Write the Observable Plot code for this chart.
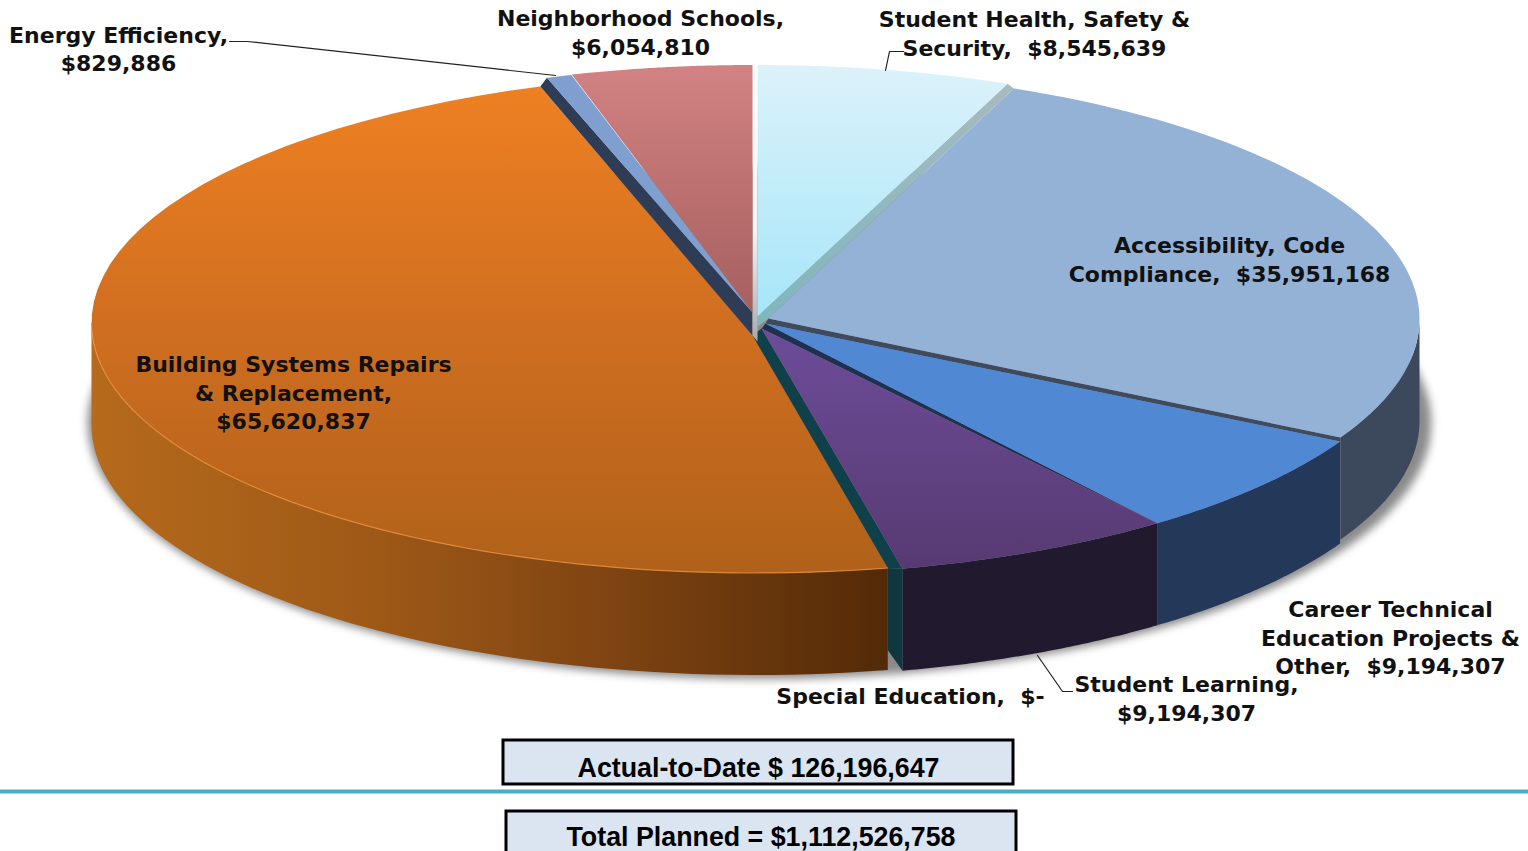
<!DOCTYPE html>
<html>
<head>
<meta charset="utf-8">
<title>Actual-to-date spending by category</title>
<script src="https://cdn.jsdelivr.net/npm/d3@7"></script>
<script src="https://cdn.jsdelivr.net/npm/@observablehq/plot@0.6"></script>
<style>
html,body{margin:0;padding:0;background:#fff;overflow:hidden}
svg{display:block}
</style>
</head>
<body>
<div id="chart"></div>
<script>
// ---- chart values ----
const categories = ["Student Health, Safety & Security","Accessibility, Code Compliance","Career Technical Education Projects & Other","Student Learning","Special Education","Building Systems Repairs & Replacement","Energy Efficiency","Neighborhood Schools"];
const amounts = [8545639,35951168,9194307,9194307,0,65620837,829886,6054810];
const labelTemplates = ["Student Health, Safety &\nSecurity,  #","Accessibility, Code\nCompliance,  #","Career Technical\nEducation Projects &\nOther,  #","Student Learning,\n#","Special Education,  #","Building Systems Repairs\n& Replacement,\n#","Energy Efficiency,\n#","Neighborhood Schools,\n#"];
const actualText = "Actual-to-Date $ 126,196,647";
const plannedText = "Total Planned = $1,112,526,758";

// ---- layout of the picture (separate from the values) ----
const W = 1528, H = 851;
const pie = {cx:755, cy:318.5, rx:664, ry:254, depth:102};
// per-slice: pie apex, rim shift and radius adjustment, angle nudges (deg)
const apexX = [757,768,765,761,null,752,752,752];
const apexY = [316,318,323,328,null,335,312,312];
const rimDx = [2,3,0,0,0,0,0,-3];
const rimDy = [0,0,2,2,0,4,0,0];
const rimDrx = [0,-3,0,0,0,0,0,0];
const rimDry = [0,-4,0,0,0,-4,0,0];
const nudge0 = [0,0,0,0,0,1.3,0,0.3];
const nudge1 = [-0.6,0,0,0,0,-0.6,0,0];
const tops = ["url(#gHealth)","#94b1d6","#5088d4","url(#gLearn)",null,"url(#gBuild)","#7f9fd0","url(#gNbr)"];
const walls = [null,"#3c495c","#24395a","#21192e",null,"url(#gBuildWall)",null,null];
const labelX = [1034,1229,1390,1186,910,293,118,640];
const labelY = [32,258,636,697,694,391,47.5,31];

const angles = d3.pie().sort(null).value(d => d).startAngle(0).endAngle(2*Math.PI)(amounts);
const rimAt = (i, deg) => {
  const t = deg*Math.PI/180;
  return {x: pie.cx+rimDx[i]+(pie.rx+rimDrx[i])*Math.sin(t), y: pie.cy+rimDy[i]-(pie.ry+rimDry[i])*Math.cos(t)};
};
const arcOf = (i, from, to) => d3.range(0,61).map(k => rimAt(i, from+(to-from)*k/60));
const t0 = i => angles[i].startAngle*180/Math.PI + nudge0[i];
const t1 = i => angles[i].endAngle*180/Math.PI + nudge1[i];
const apex = i => ({x:apexX[i], y:apexY[i]});
const below = (p, d=pie.depth) => ({x:p.x, y:p.y+d});
const shape = (pts, fill, extra={}) => Plot.line(pts, {x:"x", y:"y", curve:"linear-closed", fill, stroke:"none", ...extra});

const sliceMarks = [], wallMarks = [];
[1,2,3,5].forEach(i => {
  const a = Math.max(t0(i),90), b = Math.min(t1(i),270);
  const rim = arcOf(i,a,b);
  wallMarks.push(shape([...rim, ...rim.slice().reverse().map(p => below(p))], walls[i]));
});
const H_=0,A_=1,C_=2,L_=3,B_=5,E_=6,N_=7;
const first = i => rimAt(i,t0(i)), last = i => rimAt(i,t1(i));
// cut faces seen through the gaps between slices
const tealWall = shape([first(B_), below(first(B_),pie.depth-20), below(last(L_)), last(L_)], "#10363f");
const cuts = [
  shape([first(B_), apex(B_), apex(L_), last(L_)], "#10404a"),
  shape([last(B_), first(E_), apex(E_), apex(B_)], "#2e3d55"),
  shape([last(H_), first(A_), apex(A_), {x:apexX[H_],y:apexY[A_]+8}, apex(H_)], "url(#gHealthCut)"),
  shape([last(A_), first(C_), apex(C_), apex(A_)], "#3f4a5c"),
  shape([last(C_), first(L_), apex(L_), apex(C_)], "#1f3050"),
  shape([{x:pie.cx-3,y:pie.cy-pie.ry},{x:pie.cx+2,y:pie.cy-pie.ry},{x:pie.cx+2,y:apexY[B_]+6},{x:pie.cx-3,y:apexY[B_]}], "url(#gGap)")
];
[B_,E_,N_,H_,A_,C_,L_].forEach(i => {
  sliceMarks.push(shape([apex(i), ...arcOf(i,t0(i),t1(i))], tops[i]));
});
const buildRim = Plot.line(arcOf(B_,t0(B_),270), {x:"x",y:"y",stroke:"#ee9240",strokeWidth:1.2,strokeOpacity:0.8});

const shadow = shape(d3.range(0,361,3).map(d => ({x:pie.cx+4+(pie.rx+8)*Math.sin(d*Math.PI/180), y:pie.cy+pie.depth+2-(pie.ry+2)*Math.cos(d*Math.PI/180)})), "#8a8a8a", {imageFilter:"blur(4px)"});

const labels = labelTemplates.map((s,i) => ({
  text: s.replace("#", amounts[i]===0 ? "$-" : d3.format("$,")(amounts[i])), x:labelX[i], y:labelY[i]
}));

const leaders = [
  [{x:229,y:41},{x:247,y:41},{x:555,y:75}],
  [{x:903,y:51},{x:889,y:51},{x:885,y:70}],
  [{x:1037,y:655},{x:1062,y:691},{x:1072,y:691}]
];
const boxes = [
  {x1:503,x2:1013,y1:740,y2:784,t:actualText,tx:758,ty:768},
  {x1:506,x2:1016,y1:811,y2:870,t:plannedText,tx:760.5,ty:837}
];

const plot = Plot.plot({
  width:W, height:H, margin:0,
  x:{domain:[0,W],range:[0,W],axis:null},
  y:{domain:[0,H],range:[0,H],axis:null},
  marks:[
    shadow,
    ...wallMarks,
    tealWall,
    ...sliceMarks.slice(0,1),
    ...cuts,
    ...sliceMarks.slice(1),
    buildRim,
    ...leaders.map(l => Plot.line(l,{x:"x",y:"y",stroke:"#222",strokeWidth:1.2})),
    Plot.text(labels,{x:"x",y:"y",text:"text",fontFamily:"'DejaVu Sans'",fontWeight:"bold",fontSize:22,lineHeight:1.3,lineAnchor:"middle",textAnchor:"middle",fill:"#111"}),
    Plot.ruleY([791],{stroke:"#4bacc6",strokeWidth:4}),
    Plot.rect(boxes,{x1:"x1",x2:"x2",y1:"y1",y2:"y2",fill:"#dbe5f1",stroke:"#000",strokeWidth:3}),
    Plot.text(boxes,{x:"tx",y:"ty",text:"t",fontFamily:"'Liberation Sans'",fontWeight:"bold",fontSize:26.8,lineAnchor:"middle",textAnchor:"middle",fill:"#000"})
  ]
});

// gradients used by the slice fills
const defs = d3.select(plot).insert("defs",":first-child");
const grad = (id, stops, horizontal=false) => {
  const g = defs.append("linearGradient").attr("id",id).attr("x1",0).attr("y1",0).attr("x2",horizontal?1:0).attr("y2",horizontal?0:1);
  stops.forEach(([o,c]) => g.append("stop").attr("offset",o).attr("stop-color",c));
};
grad("gHealth",[[0,"#dcf2fa"],[1,"#a6e6f9"]]);
grad("gNbr",[[0,"#d28282"],[1,"#a65f5f"]]);
grad("gLearn",[[0,"#6d4c98"],[1,"#573a72"]]);
grad("gBuild",[[0,"#ee8022"],[0.5,"#cf6e20"],[1,"#b0611a"]]);
grad("gBuildWall",[[0,"#b56a1c"],[0.35,"#9f5917"],[0.65,"#7f4412"],[1,"#532a07"]],true);
grad("gHealthCut",[[0,"#a8bac0"],[1,"#7fb6be"]]);
grad("gGap",[[0,"#ffffff"],[0.6,"#f4f4f4"],[1,"#a9a9a9"]]);

document.getElementById("chart").append(plot);
</script>
</body>
</html>
